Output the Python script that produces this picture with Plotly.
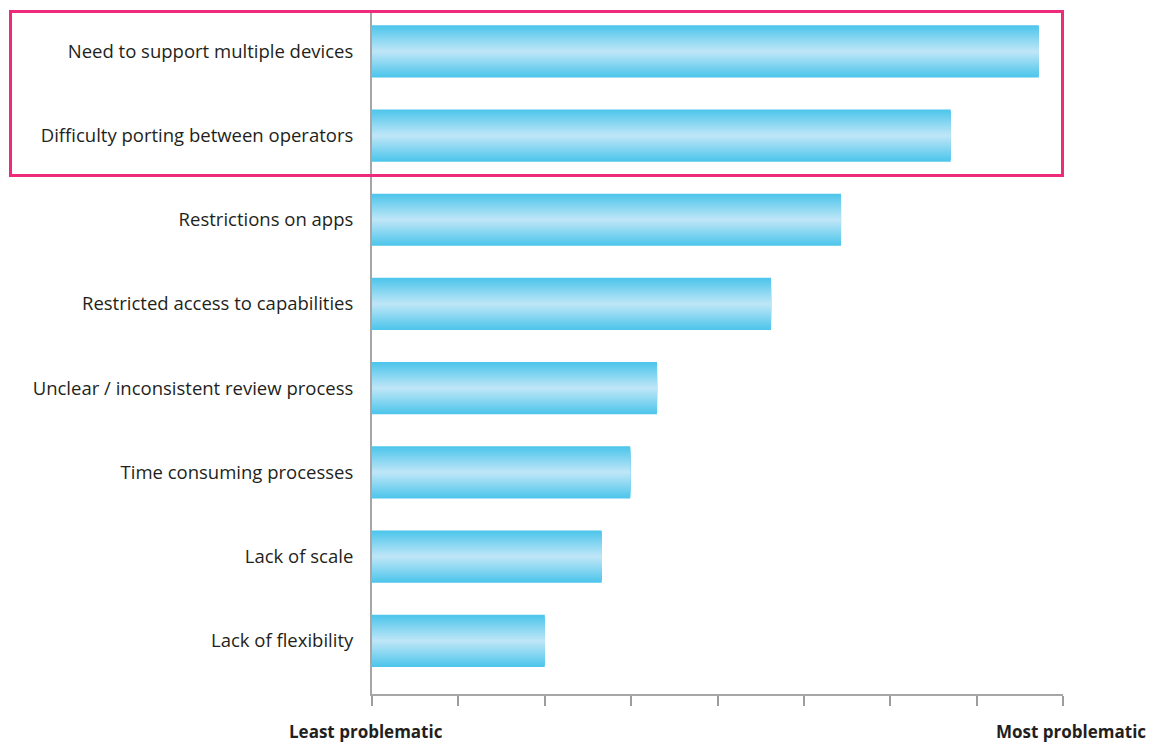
import plotly.graph_objects as go

categories = [
    "Need to support multiple devices",
    "Difficulty porting between operators",
    "Restrictions on apps",
    "Restricted access to capabilities",
    "Unclear / inconsistent review process",
    "Time consuming processes",
    "Lack of scale",
    "Lack of flexibility",
]
values = [7.72, 6.70, 5.43, 4.62, 3.30, 2.99, 2.66, 2.00]
axis_labels = ["Least problematic", "Most problematic"]

W, H = 1151, 742
ML, MR, MT, MB = 372, 88, 10, 48
PW, PH = W - ML - MR, H - MT - MB

def px_x(px):
    return (px - ML) / PW

def px_y(py):
    return (H - MB - py) / PH

edge = (75, 197, 235)
center = (192, 230, 247)
N = 16
bar_w = 0.62

fig = go.Figure()
for i in range(N):
    d = 1 - (i + 0.5) / N
    col = tuple(round(center[k] + (edge[k] - center[k]) * d) for k in range(3))
    w = bar_w * (1 - i / N)
    fig.add_trace(go.Bar(
        x=values, y=categories, orientation="h",
        width=w, marker=dict(color="rgb(%d,%d,%d)" % col, line=dict(width=0)),
        showlegend=False, hoverinfo="skip" if i else "x+y",
    ))

fig.update_layout(
    width=W, height=H,
    margin=dict(l=ML, r=MR, t=MT, b=MB),
    barmode="overlay",
    plot_bgcolor="white", paper_bgcolor="white",
    font=dict(family="Open Sans", size=17, color="#231f20"),
    xaxis=dict(range=[0, 8], dtick=1, tick0=0, showticklabels=False,
               ticks="outside", ticklen=10, tickwidth=1.5, tickcolor="#9d9d9d",
               showline=True, linecolor="#a6a6a6", linewidth=2,
               showgrid=False, zeroline=False, fixedrange=True),
    yaxis=dict(categoryorder="array", categoryarray=categories,
               range=[7.63, -0.49], showline=True, linecolor="#a6a6a6", linewidth=2,
               ticks="", ticklabelstandoff=13, showgrid=False, zeroline=False,
               tickfont=dict(size=18.5, color="#231f20")),
)

fig.add_shape(type="rect", xref="paper", yref="paper",
              x0=px_x(10.5), x1=px_x(1062.5), y0=px_y(175.5), y1=px_y(11.5),
              line=dict(color="#ee2a7b", width=3), fillcolor="rgba(0,0,0,0)", layer="above")

fig.add_annotation(text="<b>%s</b>" % axis_labels[0], xref="paper", yref="paper",
                   x=px_x(366), y=px_y(731), xanchor="center", yanchor="middle",
                   showarrow=False, font=dict(size=17, color="#231f20"))
fig.add_annotation(text="<b>%s</b>" % axis_labels[1], xref="paper", yref="paper",
                   x=px_x(1071), y=px_y(731), xanchor="center", yanchor="middle",
                   showarrow=False, font=dict(size=17, color="#231f20"))

fig.write_html("out.html")
